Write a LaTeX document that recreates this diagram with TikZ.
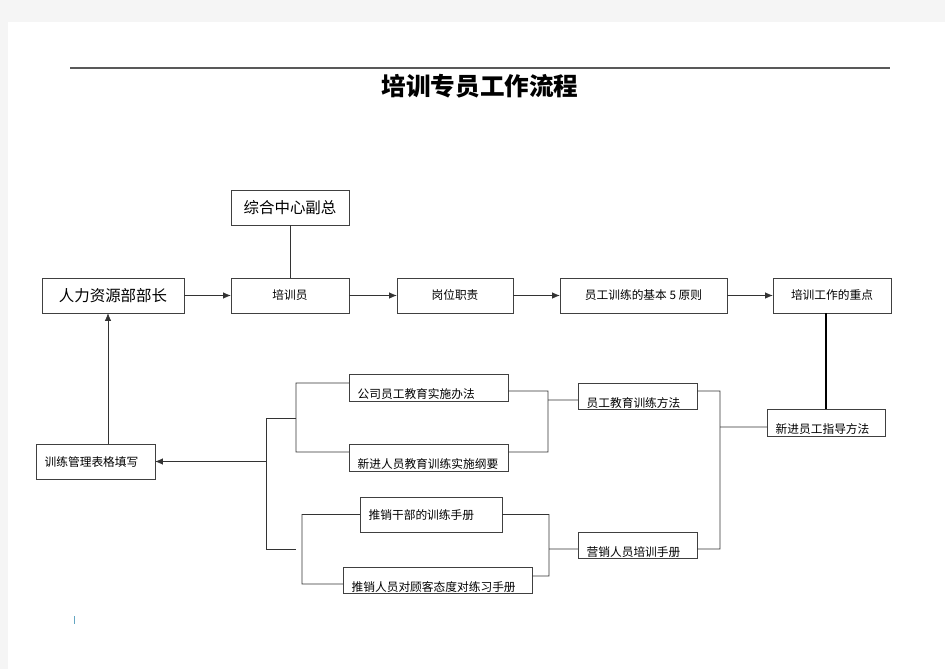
\documentclass[tikz,border=0pt]{standalone}
\usepackage{fontspec}
\setmainfont{Noto Sans CJK SC}
\usetikzlibrary{arrows.meta}

\begin{document}
\begin{tikzpicture}[
	x=0.03cm, y=-0.03cm,
	box/.style={
		draw=black!75, inner sep=0pt,
		minimum width=3.54cm, minimum height=1.05cm,
		font=\fontsize{10}{12}\selectfont
	},
	bigbox/.style={box, font=\fontsize{13.2}{16}\selectfont},
	lowbox/.style={
		box, minimum height=0.78cm, inner xsep=0.26cm,
		align=left, text height=19pt, text depth=0pt
	},
	midbox/.style={lowbox, minimum height=1.05cm, text height=9pt, text depth=1pt},
	link/.style={draw=black!80, line width=0.6pt},
	arr/.style={link, -{Latex[length=6.5pt,width=5.5pt]}}
]
	% Page
	\fill[black!4] (0, 0) rectangle (945, 669);
	\fill[white] (8, 22) rectangle (945, 669);
	\useasboundingbox (0, 0) rectangle (945, 669);
	\draw[black!65, line width=0.9pt] (70, 68) -- (890, 68);
	\node[font=\fontsize{21}{24}\selectfont\bfseries] (title) at (480, 86) {培训专员工作流程};

	% Top row
	\node[bigbox] (fuzong) at (290, 207.5) {综合中心副总};
	\node[bigbox, minimum width=4.26cm] (buzhang) at (113, 295.5) {人力资源部部长};
	\node[box] (peixunyuan) at (290, 295.5) {培训员};
	\node[box, minimum width=3.48cm] (gangwei) at (455, 295.5) {岗位职责};
	\node[box, minimum width=5.01cm] (yuanze) at (643.5, 295.5) {员工训练的基本 5 原则};
	\node[box] (zhongdian) at (832, 295.5) {培训工作的重点};
	\foreach \a/\b in {buzhang/peixunyuan, peixunyuan/gangwei, gangwei/yuanze, yuanze/zhongdian}
		\draw[arr] (\a) -- (\b);
	\draw[link] (fuzong) -- (peixunyuan);

	% Methods
	\node[lowbox, minimum height=0.81cm, text width=3.02cm] (xinjin) at (826, 422.5) {新进员工指导方法};
	\draw[link, line width=1.2pt, black] (xinjin.north) -- (xinjin.north |- zhongdian.south);
	\node[lowbox, minimum width=4.77cm, minimum height=0.81cm, text width=4.25cm] (gongsi) at (428.5, 387.5) {公司员工教育实施办法};
	\node[lowbox, minimum width=4.77cm, minimum height=0.81cm, text width=4.25cm] (xinren) at (428.5, 457.5) {新进人员教育训练实施纲要};
	\node[lowbox, minimum width=3.57cm, text width=3.05cm] (fangfa) at (637.5, 396) {员工教育训练方法};
	\node[midbox, minimum width=4.26cm, text width=3.74cm] (ganbu) at (431, 514.5) {推销干部的训练手册};
	\node[lowbox, minimum width=5.67cm, text width=5.15cm] (duilian) at (437.5, 580) {推销人员对顾客态度对练习手册};
	\node[lowbox, minimum width=3.57cm, text width=3.05cm] (yingxiao) at (637.5, 545) {营销人员培训手册};
	\node[midbox, minimum width=3.57cm, text width=3.05cm] (biaoge) at (95.5, 461.5) {训练管理表格填写};

	% Brackets
	\draw[link] ([yshift=3.8pt]gongsi.west) -| (296, 452) -- ([yshift=4.7pt]xinren.west);
	\draw[link] ([yshift=-3pt]gongsi.east) -| (548, 452) -- ([yshift=4.7pt]xinren.east);
	\draw[link] (548, 400) -- ([yshift=-3.4pt]fangfa.west);
	\draw[link] (ganbu.west) -| (302, 584) -- ([yshift=-3.4pt]duilian.west);
	\draw[link] (ganbu.east) -| (549, 576) -- ([yshift=3.4pt]duilian.east);
	\draw[link] (549, 549) -- ([yshift=-3.4pt]yingxiao.west);
	\draw[link] ([yshift=4.2pt]fangfa.east) -| (720, 549) -- ([yshift=-3.4pt]yingxiao.east);
	\draw[link] (720, 427) -- ([yshift=-3.8pt]xinjin.west);
	\draw[link] (296, 418) -- (266, 418) -- (266, 549) -- (296, 549);
	\draw[arr] (266, 461.5) -- (biaoge.east);
	\coordinate (up) at (108, 0);
	\draw[arr] (biaoge.north -| up) -- (buzhang.south -| up);

	\draw[cyan!50!gray, line width=0.6pt] (74, 616) -- (74, 624);
\end{tikzpicture}
\end{document}
